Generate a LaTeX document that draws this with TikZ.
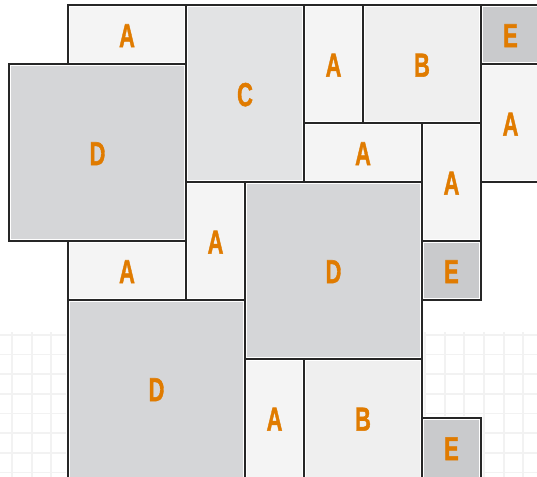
\documentclass[tikz,border=0pt]{standalone}
\usepackage{fontspec}
\setmainfont{Liberation Sans}
\newfontfamily\lblfont[FakeBold=1.6]{Liberation Sans Bold}
\usepackage{tikz}

\definecolor{tileA}{HTML}{F4F4F4}
\definecolor{tileB}{HTML}{EFEFEF}
\definecolor{tileC}{HTML}{E2E3E4}
\definecolor{tileD}{HTML}{D5D6D8}
\definecolor{tileE}{HTML}{C9CACC}
\definecolor{tileline}{HTML}{262626}
\definecolor{letter}{HTML}{E07B00}

\tikzset{
  gridline/.style={black!5, line width=0.9pt},
  edge/.style={tileline, line width=1.15pt},
  glow/.style={white, line width=2.2pt},
  lbl/.style={text=letter, font=\fontsize{16}{16}\lblfont},
}

% x1/y1/x2/y2/colour/letter
\def\tiles{1/0/3/1/tileA/A, 3/0/5/3/tileC/C, 5/0/6/2/tileA/A, 6/0/8/2/tileB/B,
  8/0/9/1/tileE/E, 0/1/3/4/tileD/D, 8/1/9/3/tileA/A, 5/2/7/3/tileA/A,
  7/2/8/4/tileA/A, 3/3/4/5/tileA/A, 4/3/7/6/tileD/D, 1/4/3/5/tileA/A,
  7/4/8/5/tileE/E, 1/5/4/8.1/tileD/D, 4/6/5/8.1/tileA/A, 5/6/7/8.1/tileB/B,
  7/7/8/8.1/tileE/E}

\begin{document}
\begin{tikzpicture}[x=1cm, y=-1cm]
  \useasboundingbox (-0.1525,-0.0847) rectangle (8.949,8);
  \clip (-0.1525,-0.0847) rectangle (8.949,8);
  % faint grid behind
  \foreach \k in {0,...,27}
    \draw[gridline] ({0.05+\k/3},5.55) -- ({0.05+\k/3},8.1);
  \foreach \k in {0,...,7}
    \draw[gridline] (-0.2,{5.59+\k/3}) -- (9.1,{5.59+\k/3});
  % tiles
  \foreach \xa/\ya/\xb/\yb/\c/\t [count=\i] in \tiles {
    \fill[\c] (\xa,\ya) rectangle (\xb,\yb);
    \node[lbl] (t\i) at ({(\xa+\xb)/2},{(\ya+min(\yb,8))/2+0.02}) {\scalebox{0.66}[1]{\t}};
  }
  \foreach \xa/\ya/\xb/\yb/\c/\t in \tiles
    \draw[glow] (\xa,\ya) rectangle (\xb,\yb);
  \foreach \xa/\ya/\xb/\yb/\c/\t in \tiles
    \draw[edge] (\xa,\ya) rectangle (\xb,\yb);
\end{tikzpicture}
\end{document}
